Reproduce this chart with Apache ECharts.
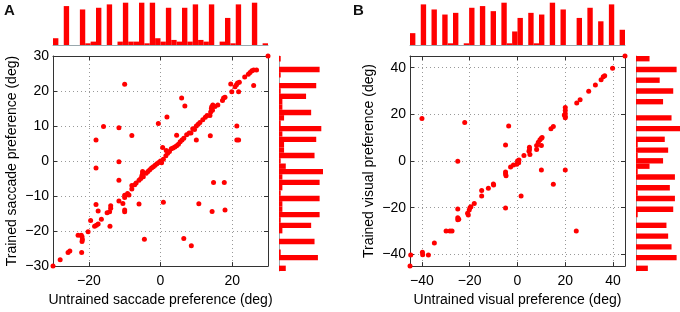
<!DOCTYPE html>
<html>
<head>
<meta charset="utf-8">
<script src="https://cdn.jsdelivr.net/npm/echarts@6/dist/echarts.min.js"></script>
<style>
  html, body { margin: 0; padding: 0; background: #fff; }
  #chart { width: 680px; height: 312px; }
</style>
</head>
<body>
<div id="chart"></div>
<script>
// histogram counts, 40 bins each (top: left -> right, side: top -> bottom)
const topHistA = [4,0,23,0,0,21,1,2,22,0,24,0,2,25,2,2,25,1,25,4,2,22,3,2,22,2,24,3,2,24,0,2,16,1,24,0,0,25,0,1];
const sideHistA = [1,0,24,1,0,22,1,16,2,2,19,3,1,25,2,22,3,3,21,1,4,26,2,24,2,1,24,2,2,24,1,19,2,0,21,0,1,23,0,4];
const topHistB = [7,0,24,0,21,0,18,1,19,0,1,22,0,23,0,20,0,25,1,8,16,0,19,1,18,0,25,0,21,0,0,16,0,22,0,14,0,24,0,9];
const sideHistB = [8,0,24,0,14,0,22,0,16,0,0,21,0,26,0,17,1,19,1,16,8,1,23,0,20,1,23,0,22,1,0,18,0,19,0,21,0,24,0,7];

// untrained vs trained saccade preference (deg)
const scatterA = [
  [-30,-30],[-28,-28.2],[-25.8,-26.1],[-25.3,-25.7],[-23,-21.2],[-22.1,-21.2],[-21.9,-21.6],[-21.8,-22.4],
  [-21.9,-23],[-22,-26.1],[-20.2,-20.2],[-19.5,-17],[-18.4,-18.6],[-17.9,-18.3],[-17.4,-18],[-16.5,-16.6],
  [-18,6],[-18,-2],[-18,-12.4],[-17.4,-14.3],[-15.9,9.9],[-14.9,-14.8],[-14.2,-14.5],[-13.9,-13.5],
  [-13.9,-12.8],[-14.1,-18.6],[-11.6,9.5],[-11.6,-0.2],[-11.6,-5.5],[-11.6,-11.4],[-10.5,-12.1],[-10,21.9],
  [-10,-10.4],[-10,-9.8],[-10,-14],[-10,-14.5],[-9.2,-9.3],[-8.8,-9.7],[-8,7.3],[-8,-7],[-8,-8],
  [-7.2,-6.8],[-6.8,-6.3],[-6,-12.3],[-6,-5.5],[-5.5,-5],[-5.2,-4.2],[-5,-3.5],[-5,-3],[-4.8,-4.5],
  [-4.5,-22.3],[-4,-3.5],[-3.5,-3],[-3,-2.5],[-2.5,-2],[-2,-1.6],[-1.5,-1.2],[-1,-0.8],[-0.5,-0.4],
  [-0.6,10.7],[0,0],[0.3,-0.5],[0.8,0.5],[0.6,3.9],[0.8,-11.8],[1.5,1.5],[1.6,3],[1.8,12.6],[2,2.2],
  [2.5,2.7],[3,3.5],[3.5,3.7],[4,4],[4.5,4.4],[4.5,7.4],[5,4.8],[5.5,5.5],[5.9,18],[6,6],[6.5,6.5],
  [6.5,-22.1],[6.8,15.7],[7.3,7.5],[8,8],[8.5,8],[8.6,-24.2],[9,9.2],[9.5,9],[10,6],[10,10],[10.5,10.5],
  [10.7,-12.2],[11,11],[11.8,11.8],[12.5,12.5],[13,13],[13.8,13],[13.9,7.2],[14,14],[14.2,15],[14.3,15.5],
  [14.5,14.5],[14.6,16],[14.4,-14.4],[14.8,-6.1],[15.2,15.6],[16,16],[17.3,17.3],[17.6,18],[18,18.2],
  [17.8,-6.1],[18,-14],[19.6,22],[19.9,19.8],[20.8,21.2],[21.2,21.8],[21.5,22.3],[21.8,19.8],[22,22.5],
  [21.3,10],[21.3,6],[21.8,6],[23.5,24],[24.5,24.8],[25,25.3],[25.5,25.8],[26,26],[26.8,26],[26,21.6],[30,30]
];

// untrained vs trained visual preference (deg)
const scatterB = [
  [-45,-45],[-44.7,-40.2],[-40,18.2],[-39.8,-39.1],[-39.7,-40.1],[-37.3,-40.2],[-34.8,-35.1],
  [-29.9,-30],[-28.3,-30],[-27.4,-30],[-25,-20.5],[-25,-24.3],[-24.6,-24.9],[-25,-25.1],[-25,-0.1],
  [-22.1,16.5],[-20.9,-22.4],[-20.6,-23.1],[-20.2,-21],[-19.9,-20],[-19.5,-19.6],[-18.1,-18.2],
  [-15,-12.6],[-15,-15],[-12.2,-11.6],[-10.1,-9.8],[-10,-10.3],[-5,6.9],[-5,-4.7],[-5,-5.6],[-4.8,-6.3],
  [-5,-20.1],[-3.7,15],[-2.9,-2.5],[-1.7,-1.7],[-0.3,-1.4],[0,0],[0.6,0.4],[0.5,-0.7],[1.5,-15],
  [2.7,2.4],[5,5.9],[5,4.9],[5.2,2.8],[4.8,4.2],[8,6.7],[8.7,8],[9.4,9.1],[10,9.8],[10.3,10.1],
  [8,4.9],[10,6.7],[10,-3.8],[14,13.8],[15,14.8],[15,-9.9],[20,22.9],[20,21.7],[20,20.3],[20,19.1],
  [20,18.6],[19.6,19.7],[20,-3.8],[24.6,-30],[24.8,24.9],[26.2,26.3],[29.8,29.9],[32.6,32.6],
  [35,34.8],[35.9,36.1],[36.5,36.5],[39.8,39.8],[45,45]
];

const ticksA = [-20, 0, 20];
const ticksB = [-40, -20, 0, 20, 40];

const RED = '#ff0000';
const FONT = 'Liberation Sans';
const bins = topHistA.map((_, i) => i);
const minus = v => String(v).replace('-', '\u2212');

// scatter panel: box frame from 4 axes, ticks inside on every side
function frameAxes(gi, lo, hi, xt, yt, xName, yName) {
  const txt = { color: '#000', fontSize: 14, fontFamily: FONT };
  const line = { show: true, onZero: false, lineStyle: { color: '#333', width: 1 } };
  const tick = { show: true, inside: true, length: 4, lineStyle: { color: '#333' } };
  const split = { show: true, lineStyle: { color: '#999', type: [1, 3] } };
  const mk = (pos, vals, extra) => Object.assign({
    gridIndex: gi, type: 'value', min: lo, max: hi, position: pos,
    axisLine: line,
    axisTick: Object.assign({ customValues: vals }, tick),
    axisLabel: { show: false }, splitLine: { show: false }
  }, extra);
  return {
    x: [
      mk('bottom', xt, {
        axisLabel: Object.assign({ customValues: xt, margin: 8, formatter: minus }, txt),
        splitLine: split,
        name: xName, nameLocation: 'middle', nameGap: 22, nameTextStyle: txt }),
      mk('top', xt)
    ],
    y: [
      mk('left', yt, {
        axisLabel: Object.assign({ customValues: yt, margin: 4, formatter: minus }, txt),
        splitLine: split,
        name: yName, nameLocation: 'middle', nameGap: 34, nameTextStyle: txt }),
      mk('right', yt)
    ]
  };
}

const fA = frameAxes(0, -30, 30, ticksA, [-30, -20, -10, 0, 10, 20, 30],
  'Untrained saccade preference (deg)', 'Trained saccade preference (deg)');
const fB = frameAxes(3, -45, 45, ticksB, ticksB,
  'Untrained visual preference (deg)', 'Trained visual preference (deg)');

const baseX = { type: 'category', data: bins, boundaryGap: true,
  axisLine: { show: true, lineStyle: { color: '#9aa8ad', width: 1 } },
  axisTick: { show: false }, axisLabel: { show: false }, splitLine: { show: false } };
const hidVal = { type: 'value', min: 0, max: 26, show: false, splitLine: { show: false } };

const chart = echarts.init(document.getElementById('chart'));
chart.setOption({
  animation: false,
  backgroundColor: '#fff',
  title: [
    { text: 'A', left: 4, top: 3, padding: 0,
      textStyle: { fontFamily: FONT, fontSize: 15, fontWeight: 'bold', color: '#111' } },
    { text: 'B', left: 353, top: 3, padding: 0,
      textStyle: { fontFamily: FONT, fontSize: 15, fontWeight: 'bold', color: '#111' } }
  ],
  grid: [
    { left: 53, top: 56, width: 215, height: 215 },
    { left: 53, top: 1, width: 215, height: 44 },
    { left: 279, top: 56, width: 44, height: 215 },
    { left: 410, top: 56, width: 215, height: 215 },
    { left: 410, top: 1, width: 215, height: 44 },
    { left: 636, top: 56, width: 44, height: 215 }
  ],
  xAxis: [
    fA.x[0], fA.x[1],
    Object.assign({ gridIndex: 1 }, baseX),
    Object.assign({ gridIndex: 2 }, hidVal),
    fB.x[0], fB.x[1],
    Object.assign({ gridIndex: 4 }, baseX),
    Object.assign({ gridIndex: 5 }, hidVal)
  ],
  yAxis: [
    fA.y[0], fA.y[1],
    Object.assign({ gridIndex: 1 }, hidVal),
    Object.assign({ gridIndex: 2, inverse: true }, baseX),
    fB.y[0], fB.y[1],
    Object.assign({ gridIndex: 4 }, hidVal),
    Object.assign({ gridIndex: 5, inverse: true }, baseX)
  ],
  series: [
    { type: 'scatter', xAxisIndex: 0, yAxisIndex: 0, data: scatterA, symbolSize: 5,
      clip: false, itemStyle: { color: RED, opacity: 1 } },
    { type: 'bar', xAxisIndex: 2, yAxisIndex: 2, data: topHistA, barCategoryGap: '0%',
      itemStyle: { color: RED } },
    { type: 'bar', xAxisIndex: 3, yAxisIndex: 3, data: sideHistA, barCategoryGap: '0%',
      itemStyle: { color: RED } },
    { type: 'scatter', xAxisIndex: 4, yAxisIndex: 4, data: scatterB, symbolSize: 5,
      clip: false, itemStyle: { color: RED, opacity: 1 } },
    { type: 'bar', xAxisIndex: 6, yAxisIndex: 6, data: topHistB, barCategoryGap: '0%',
      itemStyle: { color: RED } },
    { type: 'bar', xAxisIndex: 7, yAxisIndex: 7, data: sideHistB, barCategoryGap: '0%',
      itemStyle: { color: RED } }
  ]
});
</script>
</body>
</html>
